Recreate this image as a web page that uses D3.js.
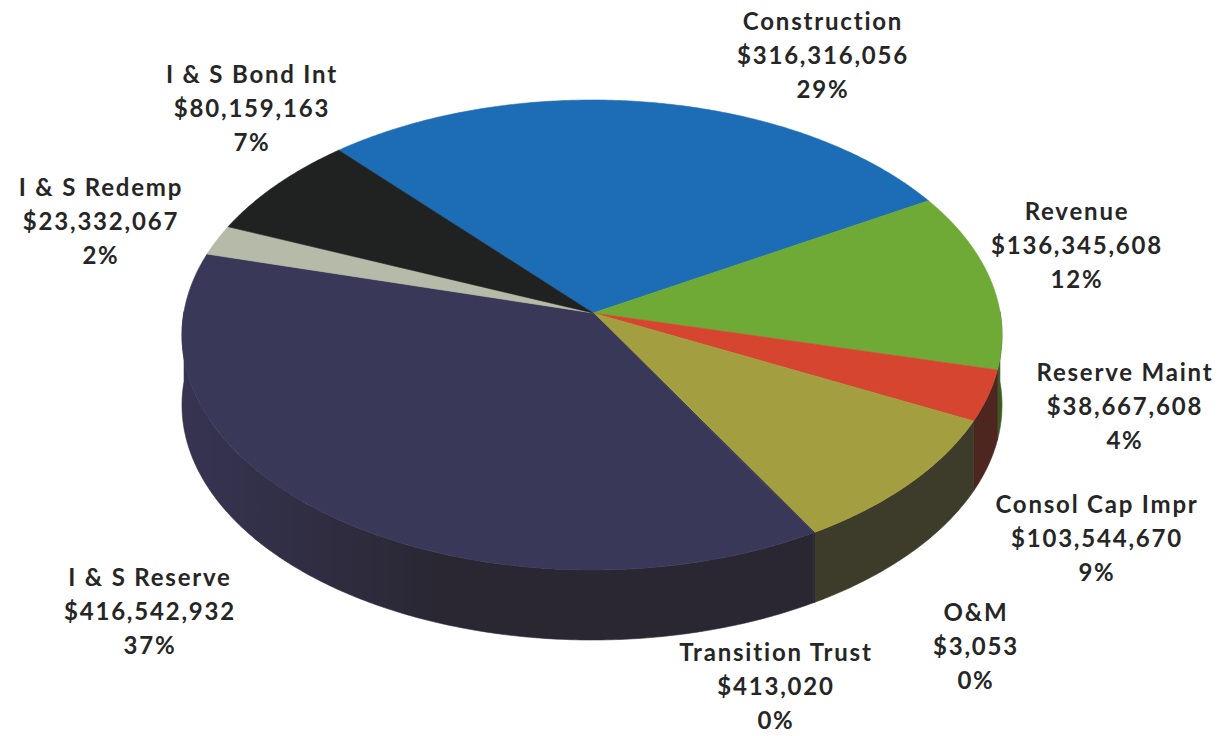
<!DOCTYPE html>
<html>
<head>
<meta charset="utf-8">
<script src="https://cdn.jsdelivr.net/npm/d3@7"></script>
<style>
  body { margin: 0; background: #fff; }
  svg text { font-family: Lato, "Open Sans", sans-serif; font-weight: bold; }
</style>
</head>
<body>
<div id="pie3d"></div>
<script>
// datos del grafico
var categories = ["Construction", "Revenue", "Reserve Maint", "Consol Cap Impr", "O&M",
                  "Transition Trust", "I & S Reserve", "I & S Redemp", "I & S Bond Int"];
var amounts = [316316056, 136345608, 38667608, 103544670, 3053,
               413020, 416542932, 23332067, 80159163];
var percentLabels = ["29%", "12%", "4%", "9%", "0%", "0%", "37%", "2%", "7%"];

// colores (cara superior y lateral)
var topColors  = ["#1c6db5", "#70aa36", "#d6452f", "#a39f40", "#5a5a40", "#3a3858", "#3a3858", "#b6baa8", "#1f2220"];
var sideColors = ["#123f6b", "#3c5a22", "#4e2620", "#3d3b29", "#3d3b29", "#2a2733", "#2a2733", "#5f6258", "#141515"];

// posicion de las etiquetas (centro x, centro de la primera linea)
var labelPos = [[823, 22], [1077, 212], [1125, 373], [1097, 505], [976, 613],
                [776, 653], [150, 578], [101, 188], [252, 75]];

var ancho = 1224, alto = 736;
var cx = 592, cy = 335, rx = 410, ry = 235, depth = 70;
var apex = [593, 313];
var start = -42 * Math.PI / 180;
var persp = 0.1; // compresion de la parte de atras (perspectiva)

var svg = d3.select("#pie3d").append("svg")
  .attr("width", ancho)
  .attr("height", alto);

var defs = svg.append("defs");
var grad = defs.append("linearGradient")
  .attr("id", "navySide")
  .attr("gradientUnits", "userSpaceOnUse")
  .attr("x1", cx - rx).attr("y1", 0)
  .attr("x2", cx - rx + 260).attr("y2", 0);
grad.append("stop").attr("offset", 0).attr("stop-color", "#363452");
grad.append("stop").attr("offset", 1).attr("stop-color", "#2a2733");

var pie = d3.pie()
  .sort(null)
  .value(function(d){ return d; })
  .startAngle(start)
  .endAngle(start + 2 * Math.PI);

var arcs = pie(amounts);

// angulo real -> angulo en la elipse
function warp(t){ return t - persp * Math.sin(t); }

function pt(t, dy){
  var w = warp(t);
  return [cx + rx * Math.sin(w), cy - ry * Math.cos(w) + (dy || 0)];
}

function arcPoints(a0, a1, dy){
  var n = Math.max(2, Math.ceil(Math.abs(a1 - a0) / 0.01));
  var pts = [];
  for (var i = 0; i <= n; i++){
    pts.push(pt(a0 + (a1 - a0) * i / n, dy));
  }
  return pts;
}

var line = d3.line();

// caras laterales (solo la mitad frontal es visible)
var sides = svg.append("g").attr("class", "lados");
arcs.forEach(function(a, i){
  var lo = Math.max(a.startAngle, Math.PI / 2);
  var hi = Math.min(a.endAngle, 3 * Math.PI / 2);
  if (hi <= lo) return;
  var pts = arcPoints(lo, hi, 0).concat(arcPoints(hi, lo, depth));
  sides.append("path")
    .attr("d", line(pts) + "Z")
    .attr("fill", categories[i] === "I & S Reserve" ? "url(#navySide)" : sideColors[i])
    .attr("stroke", categories[i] === "I & S Reserve" ? "#2d2a3a" : sideColors[i])
    .attr("stroke-width", 0.6);
});

// caras superiores
var tops = svg.append("g").attr("class", "tapas");
arcs.forEach(function(a, i){
  var pts = [apex].concat(arcPoints(a.startAngle, a.endAngle, 0));
  tops.append("path")
    .attr("d", line(pts) + "Z")
    .attr("fill", topColors[i])
    .attr("stroke", topColors[i])
    .attr("stroke-width", 0.6);
});

// etiquetas
var fmt = d3.format("$,");
var labels = svg.append("g").attr("class", "etiquetas");
categories.forEach(function(c, i){
  var lines = [c, fmt(amounts[i]), percentLabels[i]];
  lines.forEach(function(txt, j){
    labels.append("text")
      .text(txt)
      .attr("x", labelPos[i][0])
      .attr("y", labelPos[i][1] + j * 34)
      .attr("dy", "0.35em")
      .style("text-anchor", "middle")
      .attr("font-size", "24px")
      .attr("letter-spacing", "1.8px")
      .attr("fill", "#262626");
  });
});
</script>
</body>
</html>
